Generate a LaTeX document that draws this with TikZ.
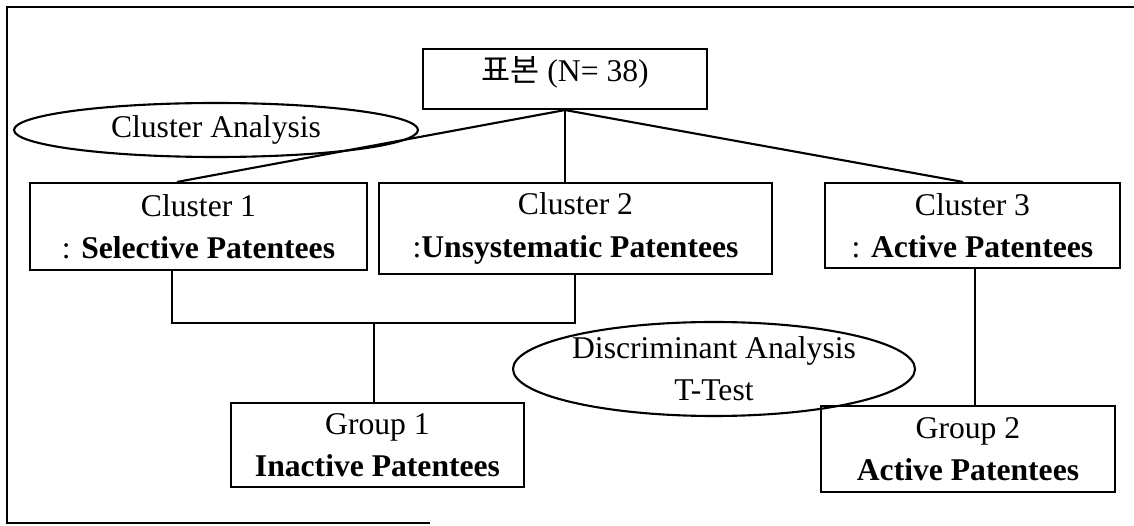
\documentclass[tikz,border=0pt]{standalone}
\usepackage{fontspec}
\setmainfont{Liberation Serif}
\newfontfamily\kofont{Noto Sans CJK KR}
\usepackage{tikz}
\usetikzlibrary{positioning, shapes.geometric, calc}

\begin{document}
\begin{tikzpicture}[
    x=1cm, y=1cm,
    every node/.style={font=\fontsize{9}{12}\selectfont, align=center, text=black},
    link/.style={draw=black, line width=0.6pt},
    topbox/.style={
      rectangle, draw=black, line width=0.6pt,
      minimum width=2.84cm, minimum height=0.60cm, inner sep=2pt,
      text depth=5.6pt
    },
    catbox/.style={
      rectangle, draw=black, line width=0.6pt,
      minimum height=0.87cm, inner sep=2pt
    },
    grpbox/.style={
      rectangle, draw=black, line width=0.6pt,
      minimum width=2.93cm, minimum height=0.85cm, inner sep=2pt
    },
    oval/.style={
      ellipse, draw=black, line width=0.6pt, inner sep=0pt
    }
  ]

    \useasboundingbox (0,0) rectangle (11.34,-5.26);

    % outer frame (open on the right, as scanned)
    \draw[line width=0.6pt] (11.34,-0.07) -- (0.07,-0.07) -- (0.07,-5.23) -- (4.30,-5.23);

    \node[topbox] (sample) at (5.65,-0.79) {{\kofont 표본} (N= 38)};

    \node[oval, minimum width=4.04cm, minimum height=0.54cm] (clan) at (2.16,-1.30)
      {Cluster Analysis};

    % clusters
    \node[catbox, minimum width=3.37cm] (cl1) at (1.985,-2.265)
      {Cluster 1\\: \textbf{Selective Patentees}};
    \node[catbox, minimum width=3.93cm, minimum height=0.91cm] (cl2) at (5.755,-2.285)
      {Cluster 2\\:\textbf{Unsystematic Patentees}};
    \node[catbox, minimum width=2.95cm, minimum height=0.85cm] (cl3) at (9.725,-2.255)
      {Cluster 3\\: \textbf{Active Patentees}};

    \draw[link] (sample.south) -- ([xshift=-2.15mm]cl1.north);
    \draw[link] (sample.south) -- (sample.south |- cl2.north);
    \draw[link] (sample.south) -- ([xshift=-0.95mm]cl3.north);

    % groups
    \node[oval, minimum width=4.02cm, minimum height=0.94cm] (disc) at (7.14,-3.69)
      {Discriminant Analysis\\T-Test};

    \node[grpbox, minimum height=0.84cm] (g1) at (3.775,-4.45)
      {Group 1\\\textbf{Inactive Patentees}};
    \node[grpbox, minimum width=2.94cm, minimum height=0.86cm] (g2) at (9.68,-4.49)
      {Group 2\\\textbf{Active Patentees}};

    \coordinate (j1) at (1.72,-3.23);
    \coordinate (j2) at (5.75,-3.23);
    \coordinate (jm) at (3.74,-3.23);

    \draw[link] (cl1.south -| j1) -- (j1) -- (j2) -- (cl2.south -| j2);
    \draw[link] (jm) -- (g1.north -| jm);
    \draw[link] ([xshift=0.25mm]cl3.south) -- ([xshift=0.25mm]cl3.south |- g2.north);

  \end{tikzpicture}
\end{document}
